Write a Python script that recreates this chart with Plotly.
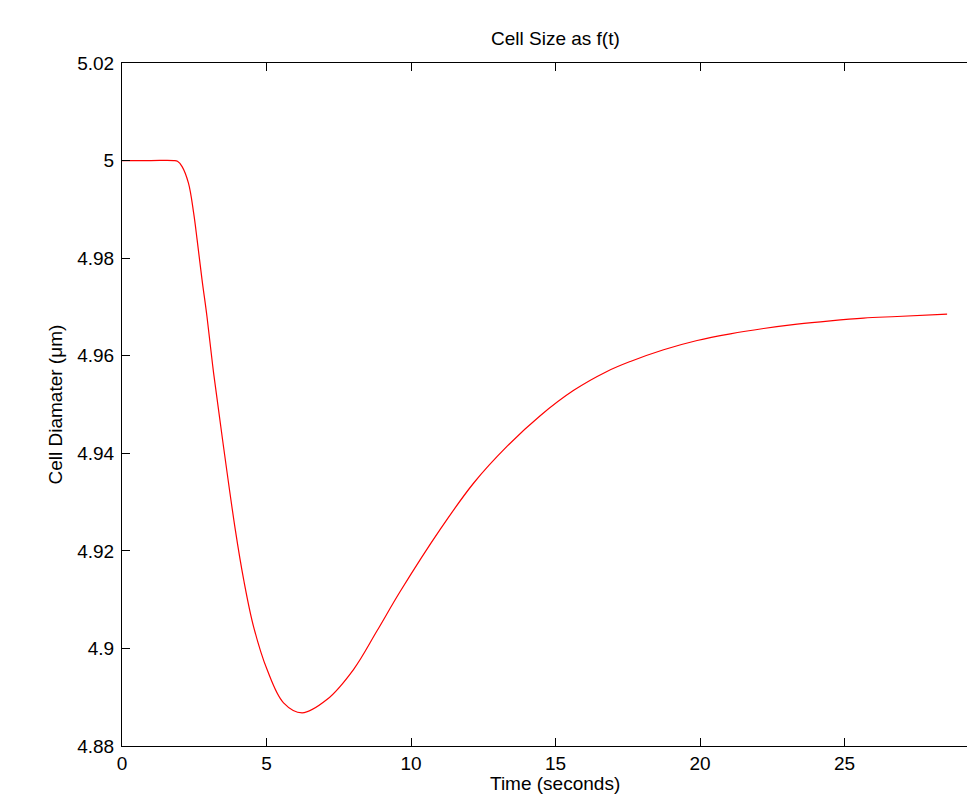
import plotly.graph_objects as go

# Data
time_s = [0.0, 1.0, 1.79, 1.92, 2.08, 2.30, 2.48, 2.60, 2.77, 2.94, 3.17, 3.48, 3.92,
          4.21, 4.55, 5.02, 5.59, 6.23, 7.09, 8.01, 8.82, 9.63, 11.01, 12.17, 13.32,
          14.47, 15.63, 16.78, 17.59, 18.74, 19.90, 21.05, 22.20, 23.36, 24.51,
          25.66, 26.82, 28.55]
diameter_um = [5.0, 5.0, 5.0, 4.99985, 4.99876, 4.99536, 4.98922, 4.98375, 4.97555,
               4.96804, 4.95644, 4.94278, 4.92435, 4.91410, 4.90454, 4.89567, 4.88885,
               4.88680, 4.88952, 4.89567, 4.90356, 4.91171, 4.92440, 4.93391, 4.94141,
               4.94770, 4.95290, 4.95677, 4.95882, 4.96122, 4.96312, 4.96449, 4.96558,
               4.96648, 4.96716, 4.96771, 4.96804, 4.96853]

x_ticks = [0, 5, 10, 15, 20, 25]
y_ticks = [4.88, 4.90, 4.92, 4.94, 4.96, 4.98, 5.00, 5.02]
y_tick_labels = ["4.88", "4.9", "4.92", "4.94", "4.96", "4.98", "5", "5.02"]

FONT = "Liberation Sans, Arial, Helvetica, sans-serif"
# The page body has a default 8px margin, so the figure is sized to end at the window edge
W, H = 967, 788
ML, MT, MB = 114, 55, 49.5
PX_PER_UNIT = 28.9
x_max = (W - ML) / PX_PER_UNIT

fig = go.Figure()
fig.add_trace(go.Scatter(
    x=time_s, y=diameter_um, mode="lines",
    line=dict(color="#ff0000", width=1.2, shape="spline", smoothing=1.0),
    hoverinfo="skip", showlegend=False,
))

axis_common = dict(
    showgrid=False, zeroline=False, showline=True, linecolor="black", linewidth=1,
    ticks="inside", ticklen=8, tickwidth=1, tickcolor="black",
    tickfont=dict(family=FONT, size=19, color="black"),
)
fig.update_xaxes(range=[0, x_max], tickvals=x_ticks, ticktext=[str(v) for v in x_ticks],
                 mirror="ticks", **axis_common)
fig.update_yaxes(range=[4.88, 5.02], tickvals=y_ticks, ticktext=y_tick_labels,
                 mirror=False, ticklabelstandoff=3, **axis_common)

plot_w = W - ML
center_frac = (547 - ML) / plot_w

fig.add_annotation(text="Cell Size as f(t)", xref="paper", yref="paper",
                   x=center_frac, y=1, xanchor="center", yanchor="bottom", yshift=12,
                   showarrow=False, font=dict(family=FONT, size=19, color="black"))
fig.add_annotation(text="Time (seconds)", xref="paper", yref="paper",
                   x=center_frac, y=0, xanchor="center", yanchor="top", yshift=-26,
                   showarrow=False, borderpad=0,
                   font=dict(family=FONT, size=19, color="black"))
fig.add_annotation(text="Cell Diamater (\u03bcm)", xref="paper", yref="paper",
                   x=0, y=0.5, xanchor="center", yanchor="middle", xshift=-67,
                   textangle=-90, showarrow=False,
                   font=dict(family=FONT, size=19, color="black"))

fig.update_layout(
    width=W, height=H,
    margin=dict(l=ML, r=0, t=MT, b=MB, pad=0),
    paper_bgcolor="white", plot_bgcolor="white",
    font=dict(family=FONT, color="black"),
)

fig.write_html("out.html")
